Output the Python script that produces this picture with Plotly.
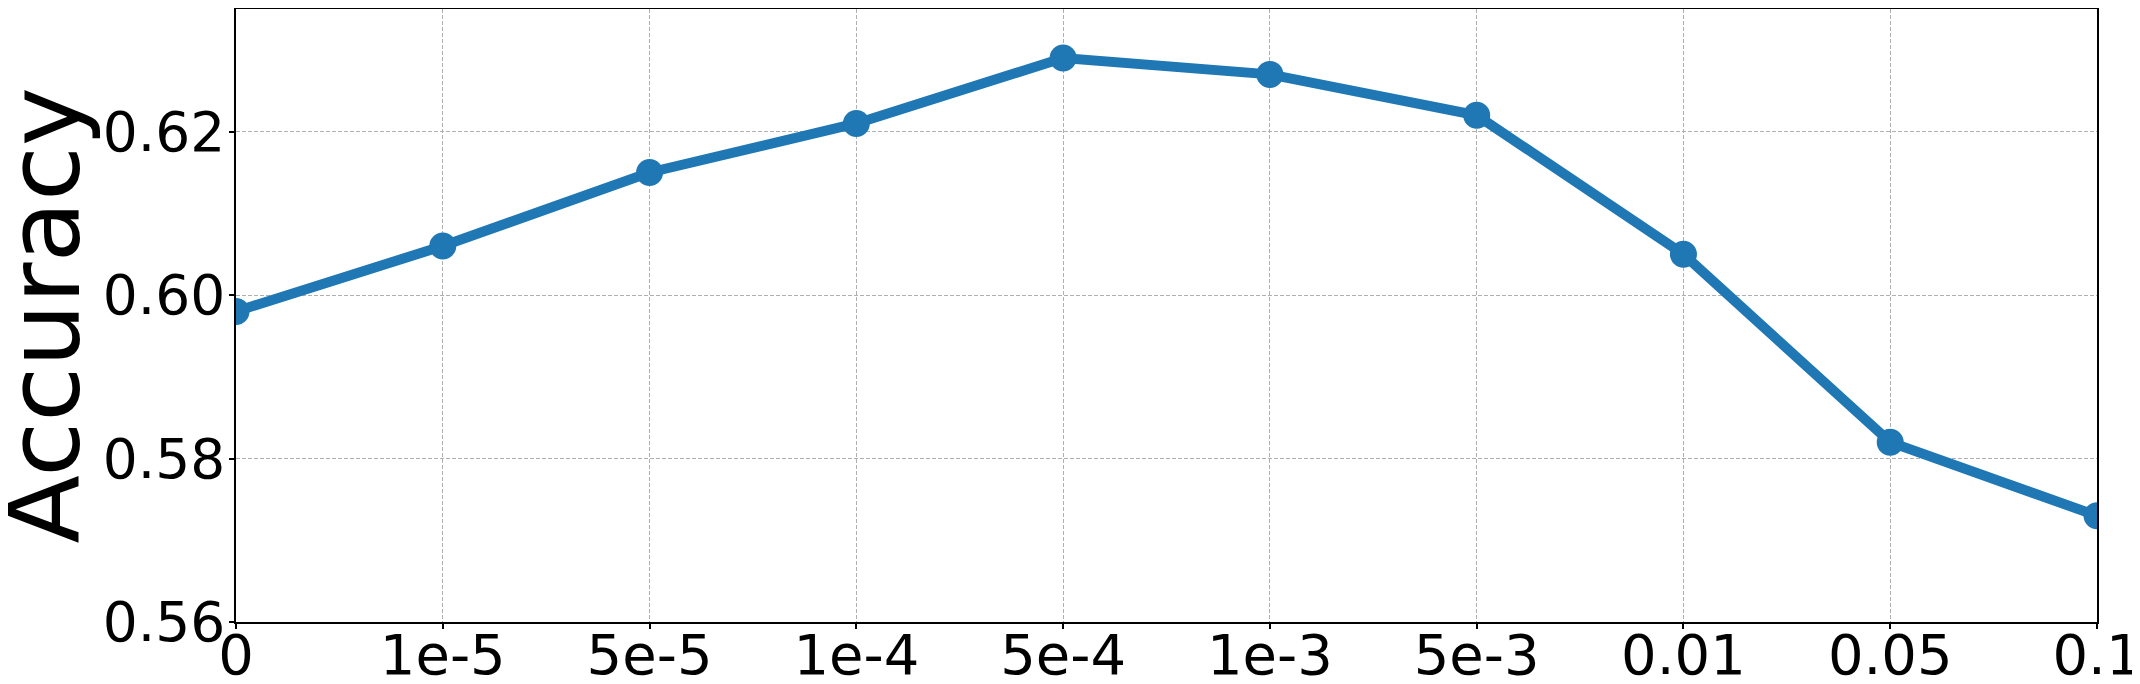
import plotly.graph_objects as go

categories = ["0", "1e-5", "5e-5", "1e-4", "5e-4", "1e-3", "5e-3", "0.01", "0.05", "0.1"]
accuracy = [0.598, 0.606, 0.615, 0.621, 0.629, 0.627, 0.622, 0.605, 0.582, 0.573]
y_ticks = [0.56, 0.58, 0.60, 0.62]
y_tick_labels = ["0.56", "0.58", "0.60", "0.62"]

# page body has an 8px default margin; compensate
OFF = 8
W, H = 2140 - OFF, 684 - OFF
L, R, T, B = 236 - OFF, 43, 1, 62

fig = go.Figure()
fig.add_trace(go.Scatter(
    x=list(range(len(categories))),
    y=accuracy,
    mode="lines+markers",
    line=dict(color="#1f77b4", width=10),
    marker=dict(color="#1f77b4", size=27),
    cliponaxis=True,
    showlegend=False,
))

font_family = "DejaVu Sans"
fig.update_layout(
    width=W, height=H,
    margin=dict(l=L, r=R, t=T, b=B, autoexpand=False),
    paper_bgcolor="white",
    plot_bgcolor="white",
    font=dict(family=font_family, color="black", size=55),
)
common = dict(
    showgrid=True, gridcolor="#b0b0b0", gridwidth=1, griddash="4px,2px",
    showline=True, linecolor="black", linewidth=1.5, mirror=True,
    ticks="outside", ticklen=5, tickwidth=1.5, tickcolor="black",
    zeroline=False, ticklabeloverflow="allow",
)
fig.update_xaxes(
    range=[0, len(categories) - 1],
    tickmode="array",
    tickvals=list(range(len(categories))),
    ticktext=categories,
    tickfont=dict(size=56, family=font_family),
    ticklabelstandoff=-22,
    **common,
)
fig.update_yaxes(
    range=[0.56, 0.635],
    tickmode="array",
    tickvals=y_ticks,
    ticktext=y_tick_labels,
    tickfont=dict(size=55, family=font_family),
    ticklabelstandoff=-7,
    **common,
)
plot_w = W - L - R
fig.add_annotation(
    text="Accuracy",
    xref="paper", yref="paper",
    x=(44 - OFF - L) / plot_w, y=0.5,
    xanchor="center", yanchor="middle",
    textangle=-90,
    showarrow=False,
    font=dict(size=100, family=font_family, color="black"),
)

fig.write_html("out.html")
